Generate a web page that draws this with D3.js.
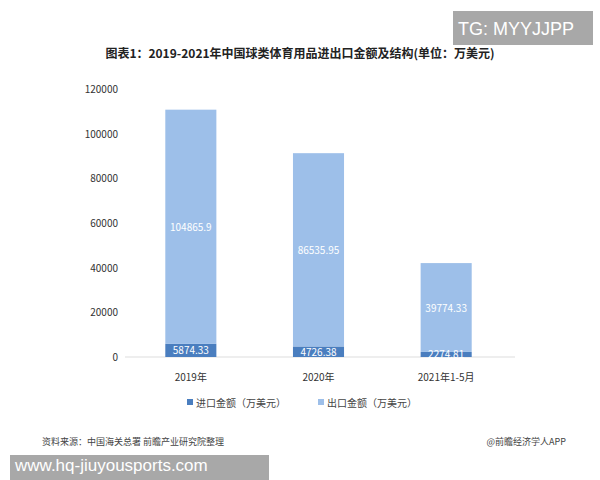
<!DOCTYPE html><html><head><meta charset="utf-8"><script src="https://cdn.jsdelivr.net/npm/d3@7"></script>
<style>body{margin:0;background:#fff}text{font-family:"Noto Sans CJK SC","DejaVu Sans",sans-serif}text.wm{font-family:"Liberation Sans",sans-serif}</style></head><body>
<svg id="c" width="600" height="480"></svg>
<script>
const categories=["2019年","2020年","2021年1-5月"];
const importVals=[5874.33,4726.38,2274.81];
const exportVals=[104865.9,86535.95,39774.33];
const yTicks=[0,20000,40000,60000,80000,100000,120000];
const svg=d3.select("#c");
const x=d3.scaleBand().domain(categories).range([127,510]).paddingInner(0.6).paddingOuter(0.3);
const y=d3.scaleLinear().domain([0,120000]).range([357,89]);
svg.append("text").attr("x",300).attr("y",58).attr("text-anchor","middle").attr("font-size",12).attr("font-weight","bold").attr("fill","#222").text("图表1：2019-2021年中国球类体育用品进出口金额及结构(单位：万美元)");
svg.append("line").attr("x1",125).attr("x2",515).attr("y1",y(0)).attr("y2",y(0)).attr("stroke","#ddd");
svg.selectAll(".yt").data(yTicks).enter().append("text").attr("x",118).attr("y",d=>y(d)+4).attr("text-anchor","end").attr("font-size",10).attr("fill","#333").text(d=>d);
const g=svg.selectAll(".b").data(categories).enter().append("g");
g.append("rect").attr("x",d=>x(d)).attr("width",x.bandwidth()).attr("y",(d,i)=>y(importVals[i])).attr("height",(d,i)=>y(0)-y(importVals[i])).attr("fill","#4a7ebf");
g.append("rect").attr("x",d=>x(d)).attr("width",x.bandwidth()).attr("y",(d,i)=>y(importVals[i]+exportVals[i])).attr("height",(d,i)=>y(importVals[i])-y(importVals[i]+exportVals[i])).attr("fill","#9dbfe9");
g.append("text").attr("x",d=>x(d)+x.bandwidth()/2).attr("y",(d,i)=>y(importVals[i])/2+y(0)/2+4).attr("text-anchor","middle").attr("font-size",10).attr("fill","#fff").text((d,i)=>importVals[i]);
g.append("text").attr("x",d=>x(d)+x.bandwidth()/2).attr("y",(d,i)=>(y(importVals[i])+y(importVals[i]+exportVals[i]))/2+4).attr("text-anchor","middle").attr("font-size",10).attr("fill","#fff").text((d,i)=>exportVals[i]);
g.append("text").attr("x",d=>x(d)+x.bandwidth()/2).attr("y",381).attr("text-anchor","middle").attr("font-size",10).attr("fill","#333").text(d=>d);
const leg=[["进口金额（万美元）","#4a7ebf",187],["出口金额（万美元）","#9dbfe9",318]];
leg.forEach(l=>{svg.append("rect").attr("x",l[2]).attr("y",399).attr("width",6).attr("height",6).attr("fill",l[1]);
svg.append("text").attr("x",l[2]+9).attr("y",407).attr("font-size",10).attr("fill","#444").text(l[0]);});
svg.append("text").attr("x",42).attr("y",445).attr("font-size",9).attr("fill","#444").text("资料来源：中国海关总署 前瞻产业研究院整理");
svg.append("text").attr("x",566).attr("y",445).attr("text-anchor","end").attr("font-size",9).attr("fill","#444").text("@前瞻经济学人APP");
svg.append("rect").attr("x",453).attr("y",11).attr("width",140).attr("height",34).attr("fill","#a8a8a8");
svg.append("text").attr("class","wm").attr("x",458).attr("y",35).attr("font-size",18).attr("fill","#fff").text("TG: MYYJJPP");
svg.append("rect").attr("x",10).attr("y",455).attr("width",259).attr("height",25).attr("fill","#a8a8a8");
svg.append("text").attr("class","wm").attr("x",15).attr("y",471).attr("font-size",17).attr("fill","#fff").text("www.hq-jiuyousports.com");
</script></body></html>
